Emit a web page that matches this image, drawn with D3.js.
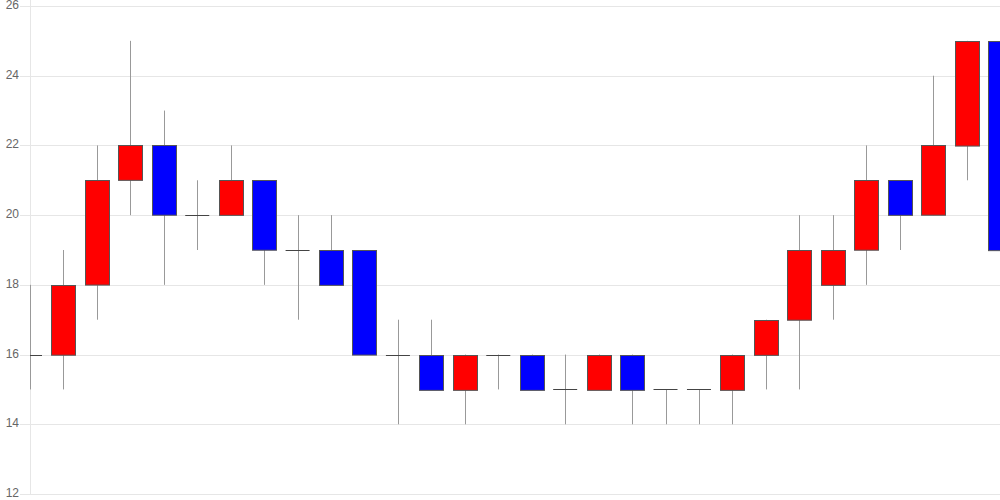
<!DOCTYPE html>
<html>
<head>
<meta charset="utf-8">
<script src="https://cdn.jsdelivr.net/npm/d3@7"></script>
<style>
    html, body { margin: 0; padding: 0; background: #fff; }
    svg { display: block; font-family: "Liberation Sans", Arial, sans-serif; }
</style>
</head>
<body>
<div id="chart"></div>
<script>
const openVals  = [16, 16, 18, 21, 22, 20, 20, 21, 19, 19, 19, 16, 16, 15, 16, 16, 15, 15, 16, 15, 15, 15, 16, 17, 18, 19, 21, 20, 22, 25];
const highVals  = [18, 19, 22, 25, 23, 21, 22, 21, 20, 20, 19, 17, 17, 16, 16, 16, 16, 16, 16, 15, 15, 16, 17, 20, 20, 22, 21, 24, 25, 25];
const lowVals   = [15, 15, 17, 20, 18, 19, 20, 18, 17, 18, 16, 14, 15, 14, 15, 15, 14, 15, 14, 14, 14, 14, 15, 15, 17, 18, 19, 20, 21, 19];
const closeVals = [16, 18, 21, 22, 20, 20, 21, 19, 19, 18, 16, 16, 15, 16, 16, 15, 15, 16, 15, 15, 15, 16, 17, 19, 19, 21, 20, 22, 25, 19];
const yTicks = [12, 14, 16, 18, 20, 22, 24, 26];

const data = openVals.map((o, i) => ({
    i: i,
    open: o,
    high: highVals[i],
    low: lowVals[i],
    close: closeVals[i]
}));

const width = 1000;
const height = 500;
const margin = { top: 6, right: 0, bottom: 6, left: 30 };

const svg = d3.select("#chart")
    .append("svg")
    .attr("width", width)
    .attr("height", height);

const x = d3.scalePoint()
    .domain(data.map(d => d.i))
    .range([margin.left, width - margin.right]);

const y = d3.scaleLinear()
    .domain([12, 26])
    .range([height - margin.bottom, margin.top]);

const bodyWidth = 24;

// grid + ticks
svg.append("g")
    .attr("class", "grid")
    .selectAll("line")
    .data(yTicks)
    .enter()
    .append("line")
    .attr("x1", margin.left - 10)
    .attr("x2", width)
    .attr("y1", d => Math.round(y(d)) + 0.5)
    .attr("y2", d => Math.round(y(d)) + 0.5)
    .attr("stroke", "#e6e6e6")
    .attr("stroke-width", 1);

svg.append("line")
    .attr("x1", margin.left + 0.5)
    .attr("x2", margin.left + 0.5)
    .attr("y1", 0)
    .attr("y2", Math.round(y(12)) + 0.5)
    .attr("stroke", "#e6e6e6");

svg.append("g")
    .selectAll("text")
    .data(yTicks)
    .enter()
    .append("text")
    .attr("x", 19)
    .attr("y", d => y(d) - 1)
    .attr("text-anchor", "end")
    .attr("dominant-baseline", "central")
    .attr("fill", "#666")
    .attr("font-size", 12)
    .text(d => d);

svg.append("defs")
    .append("clipPath")
    .attr("id", "plot-clip")
    .append("rect")
    .attr("x", margin.left)
    .attr("y", 0)
    .attr("width", width - margin.left)
    .attr("height", height);

const plot = svg.append("g")
    .attr("clip-path", "url(#plot-clip)");

const candles = plot.selectAll(".candle")
    .data(data)
    .enter()
    .append("g")
    .attr("class", "candle");

candles.append("line")
    .attr("x1", d => Math.round(x(d.i)) + 0.5)
    .attr("x2", d => Math.round(x(d.i)) + 0.5)
    .attr("y1", d => y(d.high))
    .attr("y2", d => y(d.low))
    .attr("stroke", "#999")
    .attr("stroke-width", 1);

candles.filter(d => d.open !== d.close)
    .append("rect")
    .attr("x", d => Math.round(x(d.i) - bodyWidth / 2) + 0.5)
    .attr("y", d => Math.round(y(Math.max(d.open, d.close))) + 0.5)
    .attr("width", bodyWidth)
    .attr("height", d => Math.abs(y(d.open) - y(d.close)))
    .attr("fill", d => d.close > d.open ? "#ff0000" : "#0000ff")
    .attr("stroke", "#555")
    .attr("stroke-width", 1);

candles.filter(d => d.open === d.close)
    .append("line")
    .attr("x1", d => x(d.i) - bodyWidth / 2)
    .attr("x2", d => x(d.i) + bodyWidth / 2)
    .attr("y1", d => Math.round(y(d.open)) + 0.5)
    .attr("y2", d => Math.round(y(d.open)) + 0.5)
    .attr("stroke", "#444")
    .attr("stroke-width", 1);
</script>
</body>
</html>
